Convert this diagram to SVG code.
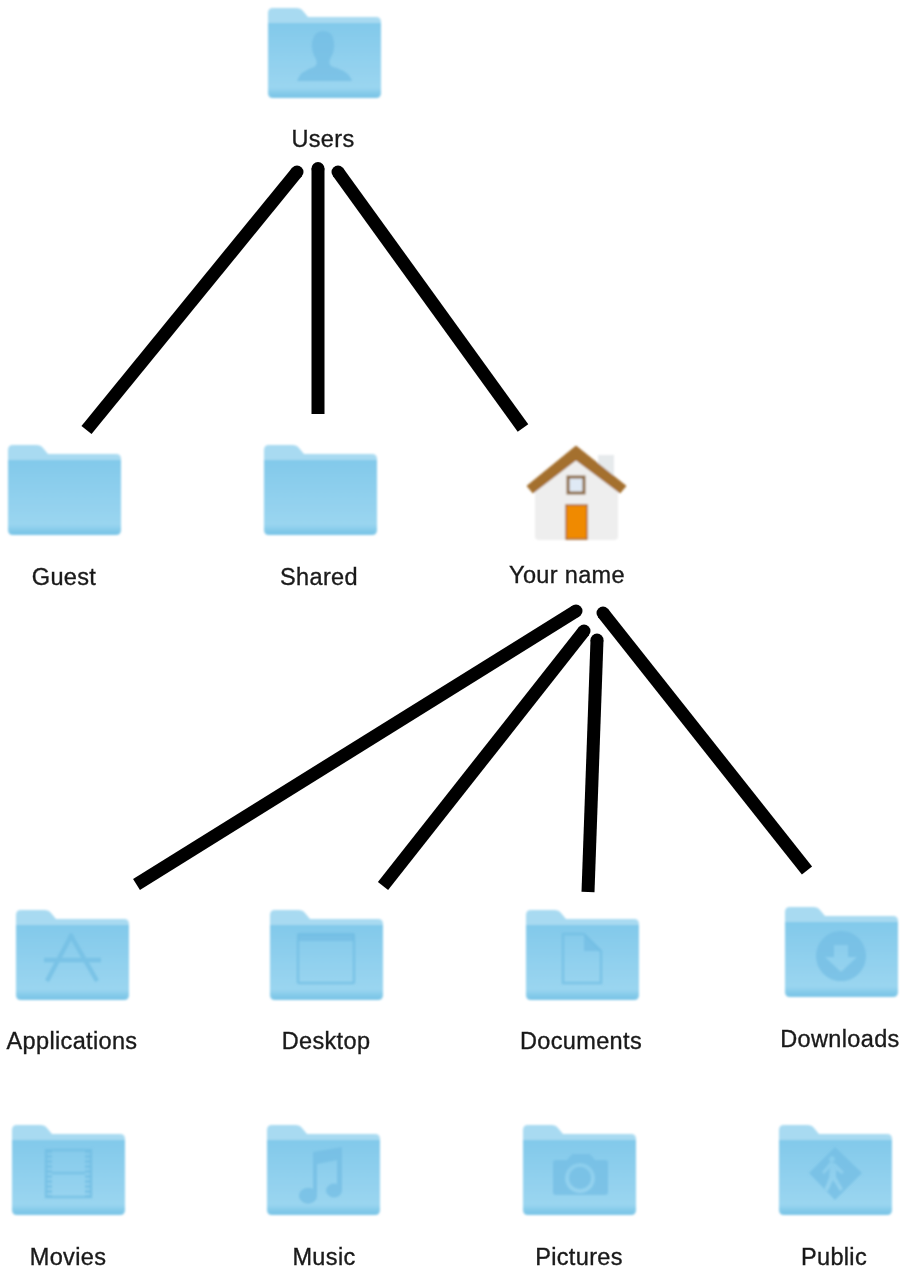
<svg xmlns="http://www.w3.org/2000/svg" width="903" height="1270" viewBox="0 0 903 1270">
<style>
.lbl{font-family:"Liberation Sans",Arial,sans-serif;font-size:23.5px;letter-spacing:.35px;fill:#1a1a1a;stroke:#1a1a1a;stroke-width:.35;text-anchor:middle;filter:url(#txt)}
.gl{fill:#72bde3;opacity:.72}
.gs{fill:none;stroke:#72bde3;opacity:.75}
.c{fill:none;stroke:#000;stroke-width:13;marker-start:url(#cap)}
</style>
<defs>
<marker id="cap" viewBox="-.5 -.5 1 1" refX="0" refY="0" markerWidth="1" markerHeight="1" markerUnits="strokeWidth" overflow="visible"><circle r=".5" fill="#000"/></marker>
<linearGradient id="body" x1="0" y1="0" x2="0" y2="1">
<stop offset="0" stop-color="#82c9ea"/><stop offset=".55" stop-color="#92d1ee"/><stop offset=".86" stop-color="#9ad5f0"/><stop offset=".94" stop-color="#84cae9"/><stop offset="1" stop-color="#78c3e6"/>
</linearGradient>
<filter id="soft" x="-10%" y="-10%" width="120%" height="120%"><feGaussianBlur stdDeviation="0.8"/></filter>
<filter id="txt" x="-5%" y="-10%" width="110%" height="120%"><feGaussianBlur stdDeviation="0.4"/></filter>
<symbol id="folder" width="114" height="92" overflow="visible">
<g filter="url(#soft)">
<path d="M0 5Q0 0 5 0H28Q33 0 35 3L40 9H108Q113 9 113 14V22H0Z" fill="#a8daf1"/>
<path d="M0 15H113V85Q113 90 108 90H5Q0 90 0 85Z" fill="url(#body)"/>
</g>
</symbol>
</defs>
<g id="connectors">
<path class="c" d="M297 172L86.500 430"/>
<path class="c" d="M318 168.500V414"/>
<path class="c" d="M338 172L523 428"/>
<path class="c" d="M576 611L136.500 884.500"/>
<path class="c" d="M584 631L383 886"/>
<path class="c" d="M597 640L588 892"/>
<path class="c" d="M603 613L807 870.500"/>
</g>
<g id="users"><use href="#folder" x="268" y="8"/>
<g filter="url(#soft)"><path class="gl" d="M297 81Q300 71 314 67Q318 65 316 59Q311 52 312 42Q314 31 323 31Q333 31 334 42Q335 52 330 59Q328 65 333 67Q349 71 352 81Z"/></g>
<text class="lbl" x="323" y="147">Users</text></g>
<g id="guest"><use href="#folder" x="8" y="445"/><text class="lbl" x="64" y="585">Guest</text></g>
<g id="shared"><use href="#folder" x="264" y="445"/><text class="lbl" x="319" y="585">Shared</text></g>
<g id="your-name">
<g filter="url(#soft)">
<rect x="598" y="455" width="16" height="30" fill="#e6eaec"/>
<path d="M535 488L576 456L618 488V536Q618 540 614 540H539Q535 540 535 536Z" fill="#eeeeee"/>
<path d="M527 486L576 446L626 486L620 493L576 460L533 493Z" fill="#a4702f" stroke="#a4702f" stroke-linejoin="round"/>
<rect x="568" y="477" width="16" height="16" fill="#dfe9f5" stroke="#8d6a45" stroke-width="3"/>
<rect x="566" y="505" width="21" height="34" fill="#f08a00" stroke="#a8682a" stroke-width="1.5"/>
</g>
<text class="lbl" x="567" y="583">Your name</text></g>
<g id="applications"><use href="#folder" x="16" y="910"/>
<g filter="url(#soft)"><path class="gs" stroke-width="4.500" d="M72 934L47 981M70 934L97 981M44 960H101"/></g>
<text class="lbl" x="72" y="1049">Applications</text></g>
<g id="desktop"><use href="#folder" x="270" y="910"/>
<g filter="url(#soft)"><rect class="gs" stroke-width="2.500" x="298" y="934" width="56" height="49" rx="1"/><rect class="gl" x="298" y="934" width="56" height="7"/></g>
<text class="lbl" x="326" y="1049">Desktop</text></g>
<g id="documents"><use href="#folder" x="526" y="910"/>
<g filter="url(#soft)"><path class="gs" stroke-width="2.500" d="M563 934H584L601 951V983H563Z"/><path class="gl" d="M584 934L601 951H584Z"/></g>
<text class="lbl" x="581" y="1049">Documents</text></g>
<g id="downloads"><use href="#folder" x="785" y="907"/>
<g filter="url(#soft)"><path class="gl" fill-rule="evenodd" d="M841 931a25 25 0 1 0 .01 0ZM834 945H848V957H857L841 972L825 957H834Z"/></g>
<text class="lbl" x="840" y="1047">Downloads</text></g>
<g id="movies"><use href="#folder" x="12" y="1125"/>
<g filter="url(#soft)"><rect class="gs" stroke-width="2.500" x="46" y="1150" width="45" height="47"/><path class="gs" stroke-width="6" stroke-dasharray="3 2" d="M49 1150V1197M88 1150V1197"/><path class="gs" stroke-width="2.500" d="M52 1173H85"/></g>
<text class="lbl" x="68" y="1265">Movies</text></g>
<g id="music"><use href="#folder" x="267" y="1125"/>
<g filter="url(#soft)"><path class="gl" d="M313 1152L342 1147V1190A8 7 0 1 1 337 1184V1160L317 1164V1196A9 8 0 1 1 313 1189Z"/></g>
<text class="lbl" x="324" y="1265">Music</text></g>
<g id="pictures"><use href="#folder" x="523" y="1125"/>
<g filter="url(#soft)"><path class="gl" fill-rule="evenodd" d="M556 1160Q553 1160 553 1163V1192Q553 1195 556 1195H605Q608 1195 608 1192V1163Q608 1160 605 1160H595L590 1154H572L567 1160ZM580 1163a15 15 0 1 1 -.01 0ZM580 1167a11 11 0 1 0 .01 0Z"/></g>
<text class="lbl" x="579" y="1265">Pictures</text></g>
<g id="public"><use href="#folder" x="779" y="1125"/>
<g filter="url(#soft)"><path class="gl" fill-rule="evenodd" d="M835 1147L862 1173L835 1200L809 1173ZM832 1156a3 3 0 1 0 .01 0ZM830 1162L822 1172L824 1174L830 1168L829 1178L824 1190L828 1191L833 1180L840 1191L843 1189L836 1177L836 1170L842 1174L844 1172L835 1163Z"/></g>
<text class="lbl" x="834" y="1265">Public</text></g>
</svg>
